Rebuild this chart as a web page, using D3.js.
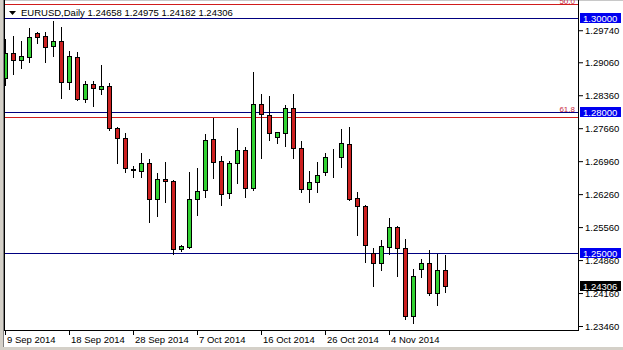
<html>
<head>
<script src="https://d3js.org/d3.v7.min.js"></script>
<style>
  body { margin: 0; background: #fff; }
  text { font-family: "Liberation Sans", Arial, sans-serif; }
</style>
</head>
<body>
<svg id="chart" width="623" height="350"></svg>
<script>
// daily EURUSD bars (MT4 style, Sunday bars included)
var dates = ["2014-09-09","2014-09-10","2014-09-11","2014-09-12","2014-09-14","2014-09-15","2014-09-16","2014-09-17","2014-09-18","2014-09-19",
  "2014-09-21","2014-09-22","2014-09-23","2014-09-24","2014-09-25","2014-09-26","2014-09-28","2014-09-29","2014-09-30","2014-10-01",
  "2014-10-02","2014-10-03","2014-10-05","2014-10-06","2014-10-07","2014-10-08","2014-10-09","2014-10-10","2014-10-12","2014-10-13",
  "2014-10-14","2014-10-15","2014-10-16","2014-10-17","2014-10-19","2014-10-20","2014-10-21","2014-10-22","2014-10-23","2014-10-24",
  "2014-10-26","2014-10-27","2014-10-28","2014-10-29","2014-10-30","2014-10-31","2014-11-02","2014-11-03","2014-11-04","2014-11-05",
  "2014-11-06","2014-11-07","2014-11-09","2014-11-10","2014-11-11","2014-11-12"];
var open = [1.28726,1.29257,1.29108,1.29172,1.29692,1.29618,1.29405,1.29512,1.28641,1.29172,
  1.28280,1.28599,1.28492,1.28556,1.27664,1.27452,1.26794,1.26751,1.26921,1.26157,
  1.26581,1.26539,1.25095,1.25137,1.26157,1.26348,1.27431,1.26964,1.26284,1.26921,
  1.27197,1.26390,1.28174,1.27940,1.27473,1.27558,1.28089,1.27240,1.26369,1.26518,
  1.26730,1.27048,1.27048,1.27325,1.26178,1.26008,1.25010,1.24798,1.25137,1.25562,
  1.25116,1.23672,1.24670,1.24798,1.24161,1.24658];
var high = [1.29554,1.29618,1.29512,1.29788,1.29703,1.29703,1.29936,1.29809,1.29299,1.29278,
  1.28662,1.28662,1.29002,1.28620,1.27685,1.27558,1.26857,1.27133,1.27006,1.26709,
  1.26942,1.26560,1.25180,1.26730,1.26815,1.27537,1.27877,1.27070,1.26964,1.27664,
  1.27261,1.28853,1.28386,1.28344,1.27579,1.28153,1.28386,1.27388,1.26751,1.26942,
  1.27133,1.27218,1.27643,1.27685,1.26305,1.26029,1.25116,1.25286,1.25753,1.25583,
  1.25307,1.24670,1.24883,1.25074,1.24989,1.24975];
var low = [1.28577,1.28811,1.28938,1.29066,1.29469,1.29066,1.29193,1.28301,1.28492,1.28259,
  1.28216,1.28131,1.28386,1.27622,1.26921,1.26730,1.26624,1.26624,1.25668,1.25796,
  1.26093,1.24989,1.25052,1.25116,1.25817,1.26199,1.26603,1.26029,1.26178,1.26496,
  1.26199,1.26348,1.27027,1.27409,1.27346,1.27282,1.27027,1.26305,1.26093,1.26305,
  1.26666,1.26624,1.26836,1.26140,1.25392,1.24819,1.24309,1.24649,1.24989,1.24522,
  1.23608,1.23524,1.24500,1.24118,1.23906,1.24182];
var close = [1.29257,1.29108,1.29193,1.29597,1.29607,1.29384,1.29512,1.28641,1.29193,1.28280,
  1.28599,1.28514,1.28556,1.27664,1.27452,1.26815,1.26772,1.26921,1.26157,1.26581,
  1.26539,1.25095,1.25159,1.26157,1.26327,1.27409,1.26942,1.26263,1.26921,1.27197,
  1.26390,1.28174,1.27962,1.27558,1.27579,1.28089,1.27240,1.26369,1.26518,1.26666,
  1.27048,1.27059,1.27346,1.26157,1.26008,1.25180,1.24798,1.25159,1.25562,1.25116,
  1.23672,1.24522,1.24798,1.24161,1.24649,1.24306];

var priceTicks = [1.29740,1.29060,1.28360,1.27660,1.26960,1.26260,1.25560,1.24860,1.24160,1.23460];
var dateTicks = ["2014-09-09","2014-09-18","2014-09-28","2014-10-07","2014-10-16","2014-10-26","2014-11-04"];
var levelLines = [1.30000, 1.28000, 1.25000];
var fibLevels = [1.30290, 1.27898];
var fibNames = ["50.0", "61.8"];
var symbolName = "EURUSD,Daily";
var lastBar = [1.24658, 1.24975, 1.24182, 1.24306];

var bars = dates.map(function(d, i) {
  return {date: d, o: open[i], h: high[i], l: low[i], c: close[i]};
});

var svg = d3.select("#chart");
var plotL = 4, plotR = 578, plotT = 0, plotB = 330;

var x = d3.scaleBand().domain(dates).range([1, 1 + 8 * dates.length]).padding(0);
var y = d3.scaleLinear().domain([1.2346, 1.30]).range([326, 18]);
var py = function(v) { return Math.round(y(v)) + 0.5; };
var cx = function(d) { return x(d) + x.bandwidth() / 2; };

svg.append("defs").append("clipPath").attr("id", "plotclip")
  .append("rect").attr("x", plotL + 1).attr("y", plotT).attr("width", plotR - plotL - 1).attr("height", plotB - plotT);

// window frame
svg.append("rect").attr("x", 0).attr("y", 0).attr("width", 623).attr("height", 1).attr("fill", "#c8c8c8");
svg.append("rect").attr("x", 0).attr("y", 0).attr("width", 3).attr("height", 350).attr("fill", "#d4d0c8");
svg.append("rect").attr("x", 0).attr("y", 347).attr("width", 623).attr("height", 3).attr("fill", "#d4d0c8");

var plot = svg.append("g").attr("clip-path", "url(#plotclip)");

// horizontal levels
plot.selectAll(".fib").data(fibLevels).enter().append("line")
  .attr("x1", plotL).attr("x2", plotR)
  .attr("y1", d => py(d)).attr("y2", d => py(d))
  .attr("stroke", "#d01c1c").attr("stroke-width", 1);
plot.selectAll(".lvl").data(levelLines).enter().append("line")
  .attr("x1", plotL).attr("x2", plotR)
  .attr("y1", d => py(d)).attr("y2", d => py(d))
  .attr("stroke", "#000080").attr("stroke-width", 1);
plot.selectAll(".fibtxt").data(fibLevels).enter().append("text")
  .attr("x", 575).attr("y", (d, i) => i == 0 ? py(d) - 1 : py(d) - 6)
  .attr("text-anchor", "end").attr("font-size", "8px").attr("fill", "#c81e3c")
  .text((d, i) => fibNames[i]);

// candles
var candle = plot.selectAll(".candle").data(bars).enter().append("g");
candle.append("line")
  .attr("x1", d => cx(d.date) + 0.5).attr("x2", d => cx(d.date) + 0.5)
  .attr("y1", d => Math.round(y(d.h))).attr("y2", d => Math.round(y(d.l)) + 1)
  .attr("stroke", "#000").attr("stroke-width", 1);
candle.append("rect")
  .attr("x", d => cx(d.date) - 1.5)
  .attr("y", d => py(Math.max(d.o, d.c)))
  .attr("width", 4)
  .attr("height", d => Math.max(Math.round(y(Math.min(d.o, d.c))) - Math.round(y(Math.max(d.o, d.c))), 0))
  .attr("fill", d => d.c >= d.o ? "#32d232" : "#cc2020")
  .attr("stroke", "#000").attr("stroke-width", 1);

// plot border
svg.append("line").attr("x1", plotL + 0.5).attr("x2", plotL + 0.5).attr("y1", 0).attr("y2", plotB + 1).attr("stroke", "#000");
svg.append("line").attr("x1", 3.5).attr("x2", 3.5).attr("y1", 0).attr("y2", 347).attr("stroke", "#808080");
svg.append("line").attr("x1", plotR + 0.5).attr("x2", plotR + 0.5).attr("y1", 0).attr("y2", plotB + 1).attr("stroke", "#000");
svg.append("line").attr("x1", plotL).attr("x2", plotR + 1).attr("y1", plotB + 0.5).attr("y2", plotB + 0.5).attr("stroke", "#000");

// right price axis
var yAxis = svg.append("g").attr("transform", "translate(" + (plotR + 1) + ",0)")
  .call(d3.axisRight(y).tickValues(priceTicks).tickSize(4).tickPadding(2).tickFormat(d3.format(".5f")));
yAxis.select(".domain").remove();
yAxis.selectAll("text").attr("font-size", "9.5px").attr("font-family", "Liberation Sans, Arial, sans-serif").attr("fill", "#000");
yAxis.selectAll("line").attr("stroke", "#000");

// bottom date axis
var fmt = d3.timeFormat("%-d %b %Y");
var parse = d3.timeParse("%Y-%m-%d");
var xAxis = svg.append("g").attr("transform", "translate(0," + (plotB + 1) + ")")
  .call(d3.axisBottom(x).tickValues(dateTicks).tickSize(4).tickFormat(d => fmt(parse(d))));
xAxis.select(".domain").remove();
xAxis.selectAll(".tick line").attr("stroke", "#000").attr("transform", "translate(0.5,0)");
xAxis.selectAll("text").attr("text-anchor", "start").attr("x", 2).attr("y", 5)
  .attr("font-size", "9.5px").attr("font-family", "Liberation Sans, Arial, sans-serif").attr("fill", "#000");

// price label boxes
var boxes = svg.append("g");
boxes.selectAll("rect").data(levelLines).enter().append("rect")
  .attr("x", plotR + 2).attr("y", d => Math.round(y(d)) - 5).attr("width", 41).attr("height", 10)
  .attr("fill", "#0000f0");
boxes.selectAll("text").data(levelLines).enter().append("text")
  .attr("x", plotR + 5).attr("y", d => Math.round(y(d)) + 4)
  .attr("font-size", "9.5px").attr("fill", "#fff").text(d => d3.format(".5f")(d));
svg.append("rect").attr("x", plotR + 2).attr("y", Math.round(y(lastBar[3])) - 5).attr("width", 41).attr("height", 10).attr("fill", "#000");
svg.append("text").attr("x", plotR + 5).attr("y", Math.round(y(lastBar[3])) + 4)
  .attr("font-size", "9.5px").attr("fill", "#fff").text(d3.format(".5f")(lastBar[3]));

// title
svg.append("path").attr("d", "M9,11L16,11L12.5,15Z").attr("fill", "#000");
svg.append("text").attr("x", 21).attr("y", 16).attr("font-size", "9.5px").attr("fill", "#000")
  .text(symbolName + "  " + lastBar.map(d3.format(".5f")).join(" "));
</script>
</body>
</html>
